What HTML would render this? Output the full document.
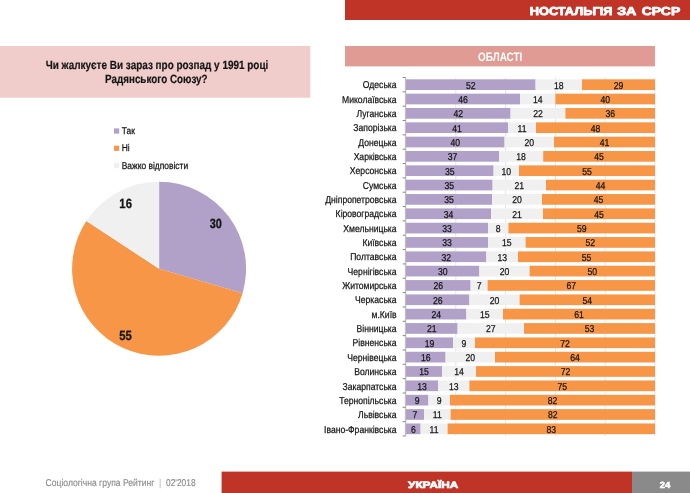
<!DOCTYPE html><html><head><meta charset="utf-8"><title>slide</title><style>html,body{margin:0;padding:0;background:#fff}svg{display:block;will-change:transform;transform:translateZ(0)}text{font-family:"Liberation Sans",sans-serif;text-rendering:geometricPrecision}</style></head><body>
<svg width="690" height="493" viewBox="0 0 690 493">
<rect width="690" height="493" fill="#fff"/>
<rect x="345" y="0" width="345" height="20" fill="#c03428"/>
<text transform="translate(529.80 14.60) scale(1.111 1)" font-size="11.5" font-weight="bold" text-anchor="start" fill="#fff" stroke="#fff" stroke-width="0.8" stroke-linejoin="round">НОСТАЛЬГІЯ</text>
<text transform="translate(617.20 14.60) scale(1.2367 1)" font-size="11.5" font-weight="bold" text-anchor="start" fill="#fff" stroke="#fff" stroke-width="0.8" stroke-linejoin="round">ЗА</text>
<text transform="translate(641.80 14.60) scale(1.212 1)" font-size="11.5" font-weight="bold" text-anchor="start" fill="#fff" stroke="#fff" stroke-width="0.8" stroke-linejoin="round">СРСР</text>
<rect x="0" y="46" width="310.3" height="51.7" fill="#f0cdcb"/>
<text transform="translate(45.70 69.00) scale(0.8289 1)" font-size="12.0" font-weight="bold" text-anchor="start" fill="#151515" stroke="#151515" stroke-width="0.2" stroke-linejoin="round">Чи жалкуєте Ви зараз про розпад у 1991 році</text>
<text transform="translate(105.10 83.30) scale(0.8189 1)" font-size="12.0" font-weight="bold" text-anchor="start" fill="#151515" stroke="#151515" stroke-width="0.2" stroke-linejoin="round">Радянського Союзу?</text>
<rect x="345" y="46" width="310" height="20.4" fill="#df9b94"/>
<text transform="translate(500.20 61.00) scale(0.815 1)" font-size="12.2" font-weight="bold" text-anchor="middle" fill="#fff" >ОБЛАСТІ</text>
<rect x="114" y="128.4" width="5.2" height="5.2" fill="#b1a0c7"/>
<text transform="translate(121.70 134.10) scale(0.86 1)" font-size="9.8" font-weight="normal" text-anchor="start" fill="#151515" stroke="#151515" stroke-width="0.25" stroke-linejoin="round">Так</text>
<rect x="114" y="145.7" width="5.2" height="5.2" fill="#f79646"/>
<text transform="translate(121.70 151.40) scale(0.86 1)" font-size="9.8" font-weight="normal" text-anchor="start" fill="#151515" stroke="#151515" stroke-width="0.25" stroke-linejoin="round">Ні</text>
<rect x="114" y="163.0" width="5.2" height="5.2" fill="#f0f0f0"/>
<text transform="translate(121.70 168.70) scale(0.86 1)" font-size="9.8" font-weight="normal" text-anchor="start" fill="#151515" stroke="#151515" stroke-width="0.25" stroke-linejoin="round">Важко відповісти</text>
<path d="M159.1 268.75 L159.10 181.75 A87.0 87.0 0 0 1 242.60 293.17 Z" fill="#b1a0c7"/>
<path d="M159.1 268.75 L242.60 293.17 A87.0 87.0 0 1 1 86.38 220.99 Z" fill="#f79646"/>
<path d="M159.1 268.75 L86.38 220.99 A87.0 87.0 0 0 1 159.10 181.75 Z" fill="#f0f0f0"/>
<text transform="translate(209.65 228.30) scale(0.8196 1)" font-size="13.3" font-weight="bold" text-anchor="start" fill="#151515" stroke="#151515" stroke-width="0.3" stroke-linejoin="round">30</text>
<text transform="translate(119.15 339.80) scale(0.8535 1)" font-size="13.3" font-weight="bold" text-anchor="start" fill="#151515" stroke="#151515" stroke-width="0.3" stroke-linejoin="round">55</text>
<text transform="translate(119.35 207.90) scale(0.8535 1)" font-size="13.3" font-weight="bold" text-anchor="start" fill="#151515" stroke="#151515" stroke-width="0.3" stroke-linejoin="round">16</text>
<rect x="405.50" y="77.5" width="1" height="358.5" fill="#e4e4e4"/>
<rect x="455.30" y="77.5" width="1" height="358.5" fill="#e4e4e4"/>
<rect x="505.10" y="77.5" width="1" height="358.5" fill="#e4e4e4"/>
<rect x="554.90" y="77.5" width="1" height="358.5" fill="#e4e4e4"/>
<rect x="604.70" y="77.5" width="1" height="358.5" fill="#e4e4e4"/>
<rect x="654.50" y="77.5" width="1" height="358.5" fill="#e4e4e4"/>
<rect x="404.9" y="77.5" width="0.9" height="358.5" fill="#b4b4b4"/>
<rect x="402.6" y="77.00" width="3.0" height="1" fill="#8a8a8a"/>
<rect x="402.6" y="91.34" width="3.0" height="1" fill="#8a8a8a"/>
<rect x="402.6" y="105.68" width="3.0" height="1" fill="#8a8a8a"/>
<rect x="402.6" y="120.02" width="3.0" height="1" fill="#8a8a8a"/>
<rect x="402.6" y="134.36" width="3.0" height="1" fill="#8a8a8a"/>
<rect x="402.6" y="148.70" width="3.0" height="1" fill="#8a8a8a"/>
<rect x="402.6" y="163.04" width="3.0" height="1" fill="#8a8a8a"/>
<rect x="402.6" y="177.38" width="3.0" height="1" fill="#8a8a8a"/>
<rect x="402.6" y="191.72" width="3.0" height="1" fill="#8a8a8a"/>
<rect x="402.6" y="206.06" width="3.0" height="1" fill="#8a8a8a"/>
<rect x="402.6" y="220.40" width="3.0" height="1" fill="#8a8a8a"/>
<rect x="402.6" y="234.74" width="3.0" height="1" fill="#8a8a8a"/>
<rect x="402.6" y="249.08" width="3.0" height="1" fill="#8a8a8a"/>
<rect x="402.6" y="263.42" width="3.0" height="1" fill="#8a8a8a"/>
<rect x="402.6" y="277.76" width="3.0" height="1" fill="#8a8a8a"/>
<rect x="402.6" y="292.10" width="3.0" height="1" fill="#8a8a8a"/>
<rect x="402.6" y="306.44" width="3.0" height="1" fill="#8a8a8a"/>
<rect x="402.6" y="320.78" width="3.0" height="1" fill="#8a8a8a"/>
<rect x="402.6" y="335.12" width="3.0" height="1" fill="#8a8a8a"/>
<rect x="402.6" y="349.46" width="3.0" height="1" fill="#8a8a8a"/>
<rect x="402.6" y="363.80" width="3.0" height="1" fill="#8a8a8a"/>
<rect x="402.6" y="378.14" width="3.0" height="1" fill="#8a8a8a"/>
<rect x="402.6" y="392.48" width="3.0" height="1" fill="#8a8a8a"/>
<rect x="402.6" y="406.82" width="3.0" height="1" fill="#8a8a8a"/>
<rect x="402.6" y="421.16" width="3.0" height="1" fill="#8a8a8a"/>
<rect x="402.6" y="435.50" width="3.0" height="1" fill="#8a8a8a"/>
<rect x="406.00" y="79.32" width="129.60" height="10.7" fill="#b1a0c7"/>
<rect x="535.60" y="79.32" width="46.40" height="10.7" fill="#f0f0f0"/>
<rect x="582.00" y="79.32" width="73.00" height="10.7" fill="#f79646"/>
<text transform="translate(396.60 88.37) scale(0.86 1)" font-size="10" font-weight="normal" text-anchor="end" fill="#151515" stroke="#151515" stroke-width="0.25" stroke-linejoin="round">Одеська</text>
<text transform="translate(470.80 88.62) scale(0.865 1)" font-size="10" font-weight="normal" text-anchor="middle" fill="#151515" stroke="#151515" stroke-width="0.25" stroke-linejoin="round">52</text>
<text transform="translate(558.80 88.62) scale(0.865 1)" font-size="10" font-weight="normal" text-anchor="middle" fill="#151515" stroke="#151515" stroke-width="0.25" stroke-linejoin="round">18</text>
<text transform="translate(618.50 88.62) scale(0.865 1)" font-size="10" font-weight="normal" text-anchor="middle" fill="#151515" stroke="#151515" stroke-width="0.25" stroke-linejoin="round">29</text>
<rect x="406.00" y="93.66" width="114.00" height="10.7" fill="#b1a0c7"/>
<rect x="520.00" y="93.66" width="35.40" height="10.7" fill="#f0f0f0"/>
<rect x="555.40" y="93.66" width="99.60" height="10.7" fill="#f79646"/>
<text transform="translate(396.60 102.71) scale(0.86 1)" font-size="10" font-weight="normal" text-anchor="end" fill="#151515" stroke="#151515" stroke-width="0.25" stroke-linejoin="round">Миколаївська</text>
<text transform="translate(463.00 102.96) scale(0.865 1)" font-size="10" font-weight="normal" text-anchor="middle" fill="#151515" stroke="#151515" stroke-width="0.25" stroke-linejoin="round">46</text>
<text transform="translate(537.70 102.96) scale(0.865 1)" font-size="10" font-weight="normal" text-anchor="middle" fill="#151515" stroke="#151515" stroke-width="0.25" stroke-linejoin="round">14</text>
<text transform="translate(605.20 102.96) scale(0.865 1)" font-size="10" font-weight="normal" text-anchor="middle" fill="#151515" stroke="#151515" stroke-width="0.25" stroke-linejoin="round">40</text>
<rect x="406.00" y="108.00" width="104.60" height="10.7" fill="#b1a0c7"/>
<rect x="510.60" y="108.00" width="54.80" height="10.7" fill="#f0f0f0"/>
<rect x="565.40" y="108.00" width="89.60" height="10.7" fill="#f79646"/>
<text transform="translate(396.60 117.05) scale(0.86 1)" font-size="10" font-weight="normal" text-anchor="end" fill="#151515" stroke="#151515" stroke-width="0.25" stroke-linejoin="round">Луганська</text>
<text transform="translate(458.30 117.30) scale(0.865 1)" font-size="10" font-weight="normal" text-anchor="middle" fill="#151515" stroke="#151515" stroke-width="0.25" stroke-linejoin="round">42</text>
<text transform="translate(538.00 117.30) scale(0.865 1)" font-size="10" font-weight="normal" text-anchor="middle" fill="#151515" stroke="#151515" stroke-width="0.25" stroke-linejoin="round">22</text>
<text transform="translate(610.20 117.30) scale(0.865 1)" font-size="10" font-weight="normal" text-anchor="middle" fill="#151515" stroke="#151515" stroke-width="0.25" stroke-linejoin="round">36</text>
<rect x="406.00" y="122.34" width="102.00" height="10.7" fill="#b1a0c7"/>
<rect x="508.00" y="122.34" width="28.00" height="10.7" fill="#f0f0f0"/>
<rect x="536.00" y="122.34" width="119.00" height="10.7" fill="#f79646"/>
<text transform="translate(396.60 131.39) scale(0.86 1)" font-size="10" font-weight="normal" text-anchor="end" fill="#151515" stroke="#151515" stroke-width="0.25" stroke-linejoin="round">Запорізька</text>
<text transform="translate(457.00 131.64) scale(0.865 1)" font-size="10" font-weight="normal" text-anchor="middle" fill="#151515" stroke="#151515" stroke-width="0.25" stroke-linejoin="round">41</text>
<text transform="translate(522.00 131.64) scale(0.865 1)" font-size="10" font-weight="normal" text-anchor="middle" fill="#151515" stroke="#151515" stroke-width="0.25" stroke-linejoin="round">11</text>
<text transform="translate(595.50 131.64) scale(0.865 1)" font-size="10" font-weight="normal" text-anchor="middle" fill="#151515" stroke="#151515" stroke-width="0.25" stroke-linejoin="round">48</text>
<rect x="406.00" y="136.68" width="98.60" height="10.7" fill="#b1a0c7"/>
<rect x="504.60" y="136.68" width="49.40" height="10.7" fill="#f0f0f0"/>
<rect x="554.00" y="136.68" width="101.00" height="10.7" fill="#f79646"/>
<text transform="translate(396.60 145.73) scale(0.86 1)" font-size="10" font-weight="normal" text-anchor="end" fill="#151515" stroke="#151515" stroke-width="0.25" stroke-linejoin="round">Донецька</text>
<text transform="translate(455.30 145.98) scale(0.865 1)" font-size="10" font-weight="normal" text-anchor="middle" fill="#151515" stroke="#151515" stroke-width="0.25" stroke-linejoin="round">40</text>
<text transform="translate(529.30 145.98) scale(0.865 1)" font-size="10" font-weight="normal" text-anchor="middle" fill="#151515" stroke="#151515" stroke-width="0.25" stroke-linejoin="round">20</text>
<text transform="translate(604.50 145.98) scale(0.865 1)" font-size="10" font-weight="normal" text-anchor="middle" fill="#151515" stroke="#151515" stroke-width="0.25" stroke-linejoin="round">41</text>
<rect x="406.00" y="151.02" width="93.00" height="10.7" fill="#b1a0c7"/>
<rect x="499.00" y="151.02" width="44.20" height="10.7" fill="#f0f0f0"/>
<rect x="543.20" y="151.02" width="111.80" height="10.7" fill="#f79646"/>
<text transform="translate(396.60 160.07) scale(0.86 1)" font-size="10" font-weight="normal" text-anchor="end" fill="#151515" stroke="#151515" stroke-width="0.25" stroke-linejoin="round">Харківська</text>
<text transform="translate(452.50 160.32) scale(0.865 1)" font-size="10" font-weight="normal" text-anchor="middle" fill="#151515" stroke="#151515" stroke-width="0.25" stroke-linejoin="round">37</text>
<text transform="translate(521.10 160.32) scale(0.865 1)" font-size="10" font-weight="normal" text-anchor="middle" fill="#151515" stroke="#151515" stroke-width="0.25" stroke-linejoin="round">18</text>
<text transform="translate(599.10 160.32) scale(0.865 1)" font-size="10" font-weight="normal" text-anchor="middle" fill="#151515" stroke="#151515" stroke-width="0.25" stroke-linejoin="round">45</text>
<rect x="406.00" y="165.36" width="87.60" height="10.7" fill="#b1a0c7"/>
<rect x="493.60" y="165.36" width="25.40" height="10.7" fill="#f0f0f0"/>
<rect x="519.00" y="165.36" width="136.00" height="10.7" fill="#f79646"/>
<text transform="translate(396.60 174.41) scale(0.86 1)" font-size="10" font-weight="normal" text-anchor="end" fill="#151515" stroke="#151515" stroke-width="0.25" stroke-linejoin="round">Херсонська</text>
<text transform="translate(449.80 174.66) scale(0.865 1)" font-size="10" font-weight="normal" text-anchor="middle" fill="#151515" stroke="#151515" stroke-width="0.25" stroke-linejoin="round">35</text>
<text transform="translate(506.30 174.66) scale(0.865 1)" font-size="10" font-weight="normal" text-anchor="middle" fill="#151515" stroke="#151515" stroke-width="0.25" stroke-linejoin="round">10</text>
<text transform="translate(587.00 174.66) scale(0.865 1)" font-size="10" font-weight="normal" text-anchor="middle" fill="#151515" stroke="#151515" stroke-width="0.25" stroke-linejoin="round">55</text>
<rect x="406.00" y="179.70" width="86.60" height="10.7" fill="#b1a0c7"/>
<rect x="492.60" y="179.70" width="53.40" height="10.7" fill="#f0f0f0"/>
<rect x="546.00" y="179.70" width="109.00" height="10.7" fill="#f79646"/>
<text transform="translate(396.60 188.75) scale(0.86 1)" font-size="10" font-weight="normal" text-anchor="end" fill="#151515" stroke="#151515" stroke-width="0.25" stroke-linejoin="round">Сумська</text>
<text transform="translate(449.30 189.00) scale(0.865 1)" font-size="10" font-weight="normal" text-anchor="middle" fill="#151515" stroke="#151515" stroke-width="0.25" stroke-linejoin="round">35</text>
<text transform="translate(519.30 189.00) scale(0.865 1)" font-size="10" font-weight="normal" text-anchor="middle" fill="#151515" stroke="#151515" stroke-width="0.25" stroke-linejoin="round">21</text>
<text transform="translate(600.50 189.00) scale(0.865 1)" font-size="10" font-weight="normal" text-anchor="middle" fill="#151515" stroke="#151515" stroke-width="0.25" stroke-linejoin="round">44</text>
<rect x="406.00" y="194.04" width="86.00" height="10.7" fill="#b1a0c7"/>
<rect x="492.00" y="194.04" width="50.00" height="10.7" fill="#f0f0f0"/>
<rect x="542.00" y="194.04" width="113.00" height="10.7" fill="#f79646"/>
<text transform="translate(396.60 203.09) scale(0.86 1)" font-size="10" font-weight="normal" text-anchor="end" fill="#151515" stroke="#151515" stroke-width="0.25" stroke-linejoin="round">Дніпропетровська</text>
<text transform="translate(449.00 203.34) scale(0.865 1)" font-size="10" font-weight="normal" text-anchor="middle" fill="#151515" stroke="#151515" stroke-width="0.25" stroke-linejoin="round">35</text>
<text transform="translate(517.00 203.34) scale(0.865 1)" font-size="10" font-weight="normal" text-anchor="middle" fill="#151515" stroke="#151515" stroke-width="0.25" stroke-linejoin="round">20</text>
<text transform="translate(598.50 203.34) scale(0.865 1)" font-size="10" font-weight="normal" text-anchor="middle" fill="#151515" stroke="#151515" stroke-width="0.25" stroke-linejoin="round">45</text>
<rect x="406.00" y="208.38" width="85.00" height="10.7" fill="#b1a0c7"/>
<rect x="491.00" y="208.38" width="52.00" height="10.7" fill="#f0f0f0"/>
<rect x="543.00" y="208.38" width="112.00" height="10.7" fill="#f79646"/>
<text transform="translate(396.60 217.43) scale(0.86 1)" font-size="10" font-weight="normal" text-anchor="end" fill="#151515" stroke="#151515" stroke-width="0.25" stroke-linejoin="round">Кіровоградська</text>
<text transform="translate(448.50 217.68) scale(0.865 1)" font-size="10" font-weight="normal" text-anchor="middle" fill="#151515" stroke="#151515" stroke-width="0.25" stroke-linejoin="round">34</text>
<text transform="translate(517.00 217.68) scale(0.865 1)" font-size="10" font-weight="normal" text-anchor="middle" fill="#151515" stroke="#151515" stroke-width="0.25" stroke-linejoin="round">21</text>
<text transform="translate(599.00 217.68) scale(0.865 1)" font-size="10" font-weight="normal" text-anchor="middle" fill="#151515" stroke="#151515" stroke-width="0.25" stroke-linejoin="round">45</text>
<rect x="406.00" y="222.72" width="82.00" height="10.7" fill="#b1a0c7"/>
<rect x="488.00" y="222.72" width="20.40" height="10.7" fill="#f0f0f0"/>
<rect x="508.40" y="222.72" width="146.60" height="10.7" fill="#f79646"/>
<text transform="translate(396.60 231.77) scale(0.86 1)" font-size="10" font-weight="normal" text-anchor="end" fill="#151515" stroke="#151515" stroke-width="0.25" stroke-linejoin="round">Хмельницька</text>
<text transform="translate(447.00 232.02) scale(0.865 1)" font-size="10" font-weight="normal" text-anchor="middle" fill="#151515" stroke="#151515" stroke-width="0.25" stroke-linejoin="round">33</text>
<text transform="translate(498.20 232.02) scale(0.865 1)" font-size="10" font-weight="normal" text-anchor="middle" fill="#151515" stroke="#151515" stroke-width="0.25" stroke-linejoin="round">8</text>
<text transform="translate(581.70 232.02) scale(0.865 1)" font-size="10" font-weight="normal" text-anchor="middle" fill="#151515" stroke="#151515" stroke-width="0.25" stroke-linejoin="round">59</text>
<rect x="406.00" y="237.06" width="82.00" height="10.7" fill="#b1a0c7"/>
<rect x="488.00" y="237.06" width="37.60" height="10.7" fill="#f0f0f0"/>
<rect x="525.60" y="237.06" width="129.40" height="10.7" fill="#f79646"/>
<text transform="translate(396.60 246.11) scale(0.86 1)" font-size="10" font-weight="normal" text-anchor="end" fill="#151515" stroke="#151515" stroke-width="0.25" stroke-linejoin="round">Київська</text>
<text transform="translate(447.00 246.36) scale(0.865 1)" font-size="10" font-weight="normal" text-anchor="middle" fill="#151515" stroke="#151515" stroke-width="0.25" stroke-linejoin="round">33</text>
<text transform="translate(506.80 246.36) scale(0.865 1)" font-size="10" font-weight="normal" text-anchor="middle" fill="#151515" stroke="#151515" stroke-width="0.25" stroke-linejoin="round">15</text>
<text transform="translate(590.30 246.36) scale(0.865 1)" font-size="10" font-weight="normal" text-anchor="middle" fill="#151515" stroke="#151515" stroke-width="0.25" stroke-linejoin="round">52</text>
<rect x="406.00" y="251.40" width="80.40" height="10.7" fill="#b1a0c7"/>
<rect x="486.40" y="251.40" width="31.60" height="10.7" fill="#f0f0f0"/>
<rect x="518.00" y="251.40" width="137.00" height="10.7" fill="#f79646"/>
<text transform="translate(396.60 260.45) scale(0.86 1)" font-size="10" font-weight="normal" text-anchor="end" fill="#151515" stroke="#151515" stroke-width="0.25" stroke-linejoin="round">Полтавська</text>
<text transform="translate(446.20 260.70) scale(0.865 1)" font-size="10" font-weight="normal" text-anchor="middle" fill="#151515" stroke="#151515" stroke-width="0.25" stroke-linejoin="round">32</text>
<text transform="translate(502.20 260.70) scale(0.865 1)" font-size="10" font-weight="normal" text-anchor="middle" fill="#151515" stroke="#151515" stroke-width="0.25" stroke-linejoin="round">13</text>
<text transform="translate(586.50 260.70) scale(0.865 1)" font-size="10" font-weight="normal" text-anchor="middle" fill="#151515" stroke="#151515" stroke-width="0.25" stroke-linejoin="round">55</text>
<rect x="406.00" y="265.74" width="73.40" height="10.7" fill="#b1a0c7"/>
<rect x="479.40" y="265.74" width="50.20" height="10.7" fill="#f0f0f0"/>
<rect x="529.60" y="265.74" width="125.40" height="10.7" fill="#f79646"/>
<text transform="translate(396.60 274.79) scale(0.86 1)" font-size="10" font-weight="normal" text-anchor="end" fill="#151515" stroke="#151515" stroke-width="0.25" stroke-linejoin="round">Чернігівська</text>
<text transform="translate(442.70 275.04) scale(0.865 1)" font-size="10" font-weight="normal" text-anchor="middle" fill="#151515" stroke="#151515" stroke-width="0.25" stroke-linejoin="round">30</text>
<text transform="translate(504.50 275.04) scale(0.865 1)" font-size="10" font-weight="normal" text-anchor="middle" fill="#151515" stroke="#151515" stroke-width="0.25" stroke-linejoin="round">20</text>
<text transform="translate(592.30 275.04) scale(0.865 1)" font-size="10" font-weight="normal" text-anchor="middle" fill="#151515" stroke="#151515" stroke-width="0.25" stroke-linejoin="round">50</text>
<rect x="406.00" y="280.08" width="64.60" height="10.7" fill="#b1a0c7"/>
<rect x="470.60" y="280.08" width="17.00" height="10.7" fill="#f0f0f0"/>
<rect x="487.60" y="280.08" width="167.40" height="10.7" fill="#f79646"/>
<text transform="translate(396.60 289.13) scale(0.86 1)" font-size="10" font-weight="normal" text-anchor="end" fill="#151515" stroke="#151515" stroke-width="0.25" stroke-linejoin="round">Житомирська</text>
<text transform="translate(438.30 289.38) scale(0.865 1)" font-size="10" font-weight="normal" text-anchor="middle" fill="#151515" stroke="#151515" stroke-width="0.25" stroke-linejoin="round">26</text>
<text transform="translate(479.10 289.38) scale(0.865 1)" font-size="10" font-weight="normal" text-anchor="middle" fill="#151515" stroke="#151515" stroke-width="0.25" stroke-linejoin="round">7</text>
<text transform="translate(571.30 289.38) scale(0.865 1)" font-size="10" font-weight="normal" text-anchor="middle" fill="#151515" stroke="#151515" stroke-width="0.25" stroke-linejoin="round">67</text>
<rect x="406.00" y="294.42" width="63.40" height="10.7" fill="#b1a0c7"/>
<rect x="469.40" y="294.42" width="50.20" height="10.7" fill="#f0f0f0"/>
<rect x="519.60" y="294.42" width="135.40" height="10.7" fill="#f79646"/>
<text transform="translate(396.60 303.47) scale(0.86 1)" font-size="10" font-weight="normal" text-anchor="end" fill="#151515" stroke="#151515" stroke-width="0.25" stroke-linejoin="round">Черкаська</text>
<text transform="translate(437.70 303.72) scale(0.865 1)" font-size="10" font-weight="normal" text-anchor="middle" fill="#151515" stroke="#151515" stroke-width="0.25" stroke-linejoin="round">26</text>
<text transform="translate(494.50 303.72) scale(0.865 1)" font-size="10" font-weight="normal" text-anchor="middle" fill="#151515" stroke="#151515" stroke-width="0.25" stroke-linejoin="round">20</text>
<text transform="translate(587.30 303.72) scale(0.865 1)" font-size="10" font-weight="normal" text-anchor="middle" fill="#151515" stroke="#151515" stroke-width="0.25" stroke-linejoin="round">54</text>
<rect x="406.00" y="308.76" width="60.40" height="10.7" fill="#b1a0c7"/>
<rect x="466.40" y="308.76" width="36.60" height="10.7" fill="#f0f0f0"/>
<rect x="503.00" y="308.76" width="152.00" height="10.7" fill="#f79646"/>
<text transform="translate(396.60 317.81) scale(0.86 1)" font-size="10" font-weight="normal" text-anchor="end" fill="#151515" stroke="#151515" stroke-width="0.25" stroke-linejoin="round">м.Київ</text>
<text transform="translate(436.20 318.06) scale(0.865 1)" font-size="10" font-weight="normal" text-anchor="middle" fill="#151515" stroke="#151515" stroke-width="0.25" stroke-linejoin="round">24</text>
<text transform="translate(484.70 318.06) scale(0.865 1)" font-size="10" font-weight="normal" text-anchor="middle" fill="#151515" stroke="#151515" stroke-width="0.25" stroke-linejoin="round">15</text>
<text transform="translate(579.00 318.06) scale(0.865 1)" font-size="10" font-weight="normal" text-anchor="middle" fill="#151515" stroke="#151515" stroke-width="0.25" stroke-linejoin="round">61</text>
<rect x="406.00" y="323.10" width="51.60" height="10.7" fill="#b1a0c7"/>
<rect x="457.60" y="323.10" width="66.40" height="10.7" fill="#f0f0f0"/>
<rect x="524.00" y="323.10" width="131.00" height="10.7" fill="#f79646"/>
<text transform="translate(396.60 332.15) scale(0.86 1)" font-size="10" font-weight="normal" text-anchor="end" fill="#151515" stroke="#151515" stroke-width="0.25" stroke-linejoin="round">Вінницька</text>
<text transform="translate(431.80 332.40) scale(0.865 1)" font-size="10" font-weight="normal" text-anchor="middle" fill="#151515" stroke="#151515" stroke-width="0.25" stroke-linejoin="round">21</text>
<text transform="translate(490.80 332.40) scale(0.865 1)" font-size="10" font-weight="normal" text-anchor="middle" fill="#151515" stroke="#151515" stroke-width="0.25" stroke-linejoin="round">27</text>
<text transform="translate(589.50 332.40) scale(0.865 1)" font-size="10" font-weight="normal" text-anchor="middle" fill="#151515" stroke="#151515" stroke-width="0.25" stroke-linejoin="round">53</text>
<rect x="406.00" y="337.44" width="47.00" height="10.7" fill="#b1a0c7"/>
<rect x="453.00" y="337.44" width="22.00" height="10.7" fill="#f0f0f0"/>
<rect x="475.00" y="337.44" width="180.00" height="10.7" fill="#f79646"/>
<text transform="translate(396.60 346.49) scale(0.86 1)" font-size="10" font-weight="normal" text-anchor="end" fill="#151515" stroke="#151515" stroke-width="0.25" stroke-linejoin="round">Рівненська</text>
<text transform="translate(429.50 346.74) scale(0.865 1)" font-size="10" font-weight="normal" text-anchor="middle" fill="#151515" stroke="#151515" stroke-width="0.25" stroke-linejoin="round">19</text>
<text transform="translate(464.00 346.74) scale(0.865 1)" font-size="10" font-weight="normal" text-anchor="middle" fill="#151515" stroke="#151515" stroke-width="0.25" stroke-linejoin="round">9</text>
<text transform="translate(565.00 346.74) scale(0.865 1)" font-size="10" font-weight="normal" text-anchor="middle" fill="#151515" stroke="#151515" stroke-width="0.25" stroke-linejoin="round">72</text>
<rect x="406.00" y="351.78" width="39.60" height="10.7" fill="#b1a0c7"/>
<rect x="445.60" y="351.78" width="49.40" height="10.7" fill="#f0f0f0"/>
<rect x="495.00" y="351.78" width="160.00" height="10.7" fill="#f79646"/>
<text transform="translate(396.60 360.83) scale(0.86 1)" font-size="10" font-weight="normal" text-anchor="end" fill="#151515" stroke="#151515" stroke-width="0.25" stroke-linejoin="round">Чернівецька</text>
<text transform="translate(425.80 361.08) scale(0.865 1)" font-size="10" font-weight="normal" text-anchor="middle" fill="#151515" stroke="#151515" stroke-width="0.25" stroke-linejoin="round">16</text>
<text transform="translate(470.30 361.08) scale(0.865 1)" font-size="10" font-weight="normal" text-anchor="middle" fill="#151515" stroke="#151515" stroke-width="0.25" stroke-linejoin="round">20</text>
<text transform="translate(575.00 361.08) scale(0.865 1)" font-size="10" font-weight="normal" text-anchor="middle" fill="#151515" stroke="#151515" stroke-width="0.25" stroke-linejoin="round">64</text>
<rect x="406.00" y="366.12" width="36.00" height="10.7" fill="#b1a0c7"/>
<rect x="442.00" y="366.12" width="34.00" height="10.7" fill="#f0f0f0"/>
<rect x="476.00" y="366.12" width="179.00" height="10.7" fill="#f79646"/>
<text transform="translate(396.60 375.17) scale(0.86 1)" font-size="10" font-weight="normal" text-anchor="end" fill="#151515" stroke="#151515" stroke-width="0.25" stroke-linejoin="round">Волинська</text>
<text transform="translate(424.00 375.42) scale(0.865 1)" font-size="10" font-weight="normal" text-anchor="middle" fill="#151515" stroke="#151515" stroke-width="0.25" stroke-linejoin="round">15</text>
<text transform="translate(459.00 375.42) scale(0.865 1)" font-size="10" font-weight="normal" text-anchor="middle" fill="#151515" stroke="#151515" stroke-width="0.25" stroke-linejoin="round">14</text>
<text transform="translate(565.50 375.42) scale(0.865 1)" font-size="10" font-weight="normal" text-anchor="middle" fill="#151515" stroke="#151515" stroke-width="0.25" stroke-linejoin="round">72</text>
<rect x="406.00" y="380.46" width="32.00" height="10.7" fill="#b1a0c7"/>
<rect x="438.00" y="380.46" width="31.40" height="10.7" fill="#f0f0f0"/>
<rect x="469.40" y="380.46" width="185.60" height="10.7" fill="#f79646"/>
<text transform="translate(396.60 389.51) scale(0.86 1)" font-size="10" font-weight="normal" text-anchor="end" fill="#151515" stroke="#151515" stroke-width="0.25" stroke-linejoin="round">Закарпатська</text>
<text transform="translate(422.00 389.76) scale(0.865 1)" font-size="10" font-weight="normal" text-anchor="middle" fill="#151515" stroke="#151515" stroke-width="0.25" stroke-linejoin="round">13</text>
<text transform="translate(453.70 389.76) scale(0.865 1)" font-size="10" font-weight="normal" text-anchor="middle" fill="#151515" stroke="#151515" stroke-width="0.25" stroke-linejoin="round">13</text>
<text transform="translate(562.20 389.76) scale(0.865 1)" font-size="10" font-weight="normal" text-anchor="middle" fill="#151515" stroke="#151515" stroke-width="0.25" stroke-linejoin="round">75</text>
<rect x="406.00" y="394.80" width="22.40" height="10.7" fill="#b1a0c7"/>
<rect x="428.40" y="394.80" width="21.60" height="10.7" fill="#f0f0f0"/>
<rect x="450.00" y="394.80" width="205.00" height="10.7" fill="#f79646"/>
<text transform="translate(396.60 403.85) scale(0.86 1)" font-size="10" font-weight="normal" text-anchor="end" fill="#151515" stroke="#151515" stroke-width="0.25" stroke-linejoin="round">Тернопільська</text>
<text transform="translate(417.20 404.10) scale(0.865 1)" font-size="10" font-weight="normal" text-anchor="middle" fill="#151515" stroke="#151515" stroke-width="0.25" stroke-linejoin="round">9</text>
<text transform="translate(439.20 404.10) scale(0.865 1)" font-size="10" font-weight="normal" text-anchor="middle" fill="#151515" stroke="#151515" stroke-width="0.25" stroke-linejoin="round">9</text>
<text transform="translate(552.50 404.10) scale(0.865 1)" font-size="10" font-weight="normal" text-anchor="middle" fill="#151515" stroke="#151515" stroke-width="0.25" stroke-linejoin="round">82</text>
<rect x="406.00" y="409.14" width="18.00" height="10.7" fill="#b1a0c7"/>
<rect x="424.00" y="409.14" width="26.60" height="10.7" fill="#f0f0f0"/>
<rect x="450.60" y="409.14" width="204.40" height="10.7" fill="#f79646"/>
<text transform="translate(396.60 418.19) scale(0.86 1)" font-size="10" font-weight="normal" text-anchor="end" fill="#151515" stroke="#151515" stroke-width="0.25" stroke-linejoin="round">Львівська</text>
<text transform="translate(415.00 418.44) scale(0.865 1)" font-size="10" font-weight="normal" text-anchor="middle" fill="#151515" stroke="#151515" stroke-width="0.25" stroke-linejoin="round">7</text>
<text transform="translate(437.30 418.44) scale(0.865 1)" font-size="10" font-weight="normal" text-anchor="middle" fill="#151515" stroke="#151515" stroke-width="0.25" stroke-linejoin="round">11</text>
<text transform="translate(552.80 418.44) scale(0.865 1)" font-size="10" font-weight="normal" text-anchor="middle" fill="#151515" stroke="#151515" stroke-width="0.25" stroke-linejoin="round">82</text>
<rect x="406.00" y="423.48" width="14.60" height="10.7" fill="#b1a0c7"/>
<rect x="420.60" y="423.48" width="27.00" height="10.7" fill="#f0f0f0"/>
<rect x="447.60" y="423.48" width="207.40" height="10.7" fill="#f79646"/>
<text transform="translate(396.60 432.53) scale(0.86 1)" font-size="10" font-weight="normal" text-anchor="end" fill="#151515" stroke="#151515" stroke-width="0.25" stroke-linejoin="round">Івано-Франківська</text>
<text transform="translate(413.30 432.78) scale(0.865 1)" font-size="10" font-weight="normal" text-anchor="middle" fill="#151515" stroke="#151515" stroke-width="0.25" stroke-linejoin="round">6</text>
<text transform="translate(434.10 432.78) scale(0.865 1)" font-size="10" font-weight="normal" text-anchor="middle" fill="#151515" stroke="#151515" stroke-width="0.25" stroke-linejoin="round">11</text>
<text transform="translate(551.30 432.78) scale(0.865 1)" font-size="10" font-weight="normal" text-anchor="middle" fill="#151515" stroke="#151515" stroke-width="0.25" stroke-linejoin="round">83</text>
<text transform="translate(45.58 486.00) scale(0.8667 1)" font-size="9.9" font-weight="normal" text-anchor="start" fill="#8c8c8c" stroke="#8c8c8c" stroke-width="0.15" stroke-linejoin="round">Соціологічна група Рейтинг</text>
<text transform="translate(159.47 486.00) scale(0.4468 1)" font-size="9.9" font-weight="normal" text-anchor="start" fill="#8c8c8c" stroke="#8c8c8c" stroke-width="0.15" stroke-linejoin="round">|</text>
<text transform="translate(166.07 486.00) scale(0.8456 1)" font-size="9.9" font-weight="normal" text-anchor="start" fill="#8c8c8c" stroke="#8c8c8c" stroke-width="0.15" stroke-linejoin="round">02'2018</text>
<rect x="221.6" y="471.6" width="410.4" height="21.4" fill="#c03428"/>
<rect x="632" y="471.6" width="58" height="21.4" fill="#8a8a8a"/>
<text transform="translate(408.05 488.00) scale(1.2601 1)" font-size="9.4" font-weight="bold" text-anchor="start" fill="#fff" stroke="#fff" stroke-width="0.7" stroke-linejoin="round">УКРАЇНА</text>
<text transform="translate(659.65 487.70) scale(1.0629 1)" font-size="8.9" font-weight="bold" text-anchor="start" fill="#fff" stroke="#fff" stroke-width="0.5" stroke-linejoin="round">24</text>
</svg></body></html>
